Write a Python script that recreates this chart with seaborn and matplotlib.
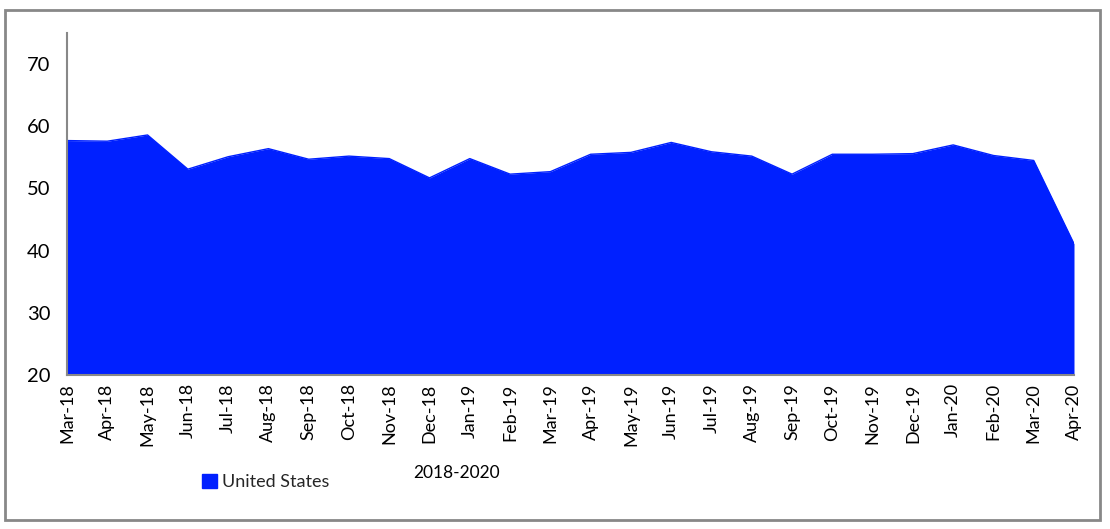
import matplotlib
matplotlib.use("Agg")
import matplotlib.pyplot as plt
import matplotlib.patches as mpatches
import seaborn as sns
import pandas as pd
import numpy as np

months = ["Mar-18", "Apr-18", "May-18", "Jun-18", "Jul-18", "Aug-18", "Sep-18",
          "Oct-18", "Nov-18", "Dec-18", "Jan-19", "Feb-19", "Mar-19", "Apr-19",
          "May-19", "Jun-19", "Jul-19", "Aug-19", "Sep-19", "Oct-19", "Nov-19",
          "Dec-19", "Jan-20", "Feb-20", "Mar-20", "Apr-20"]
us_values = [57.7, 57.6, 58.6, 53.1, 55.1, 56.4, 54.7, 55.2, 54.8, 51.7, 54.8,
             52.3, 52.7, 55.5, 55.8, 57.4, 55.9, 55.2, 52.3, 55.5, 55.5, 55.6,
             57.0, 55.3, 54.5, 41.1]
y_ticks = [20, 30, 40, 50, 60, 70]
series_name = "United States"
x_title = "2018-2020"

sns.set_theme(style="white")
plt.rcParams['font.family'] = ['Lato', 'DejaVu Sans']

color = "#0020FF"
df = pd.DataFrame({"idx": np.arange(len(months)), "value": us_values})

fig = plt.figure(figsize=(11.10, 5.29), dpi=100)
ax = fig.add_axes([67/1110, 1-375/529, (1074-67)/1110, (375-33)/529])

ax.fill_between(df["idx"], df["value"], 20, color=color, linewidth=0)
sns.lineplot(data=df, x="idx", y="value", ax=ax, color=color, linewidth=1)

ax.set_xlim(0, len(months) - 1)
ax.set_ylim(20, 75)
ax.set_yticks(y_ticks)
ax.set_yticklabels([str(t) for t in y_ticks], fontsize=14.5, color="black")
ax.set_xticks(df["idx"])
ax.set_xticklabels(months, rotation=90, fontsize=13, color="black")
ax.tick_params(axis="both", length=0, pad=6)
ax.tick_params(axis="y", pad=12)
ax.set_xlabel("")
ax.set_ylabel("")

for s in ["top", "right"]:
    ax.spines[s].set_visible(False)
for s in ["left", "bottom"]:
    ax.spines[s].set_color("#888888")
    ax.spines[s].set_linewidth(1.5)

# legend
handle = mpatches.Patch(color=color, label=series_name)
fig.legend(handles=[handle], loc="center left", bbox_to_anchor=(195/1110, 1-482/529),
           frameon=False, fontsize=13, handlelength=0.8, handleheight=0.8,
           handletextpad=0.3, borderaxespad=0)

fig.text(457/1110, 1-473/529, x_title, ha="center", va="center", fontsize=12.5, color="black")

# outer border
border = mpatches.Rectangle((5/1110, 9/529), 1095/1110, 510/529, transform=fig.transFigure,
                            fill=False, edgecolor="#888888", linewidth=2)
fig.patches.append(border)

fig.savefig("out.png", dpi=100)
